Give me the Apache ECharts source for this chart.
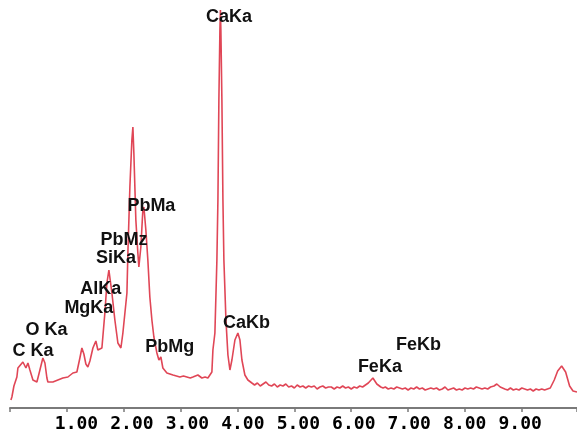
<!DOCTYPE html>
<html>
<head>
<meta charset="utf-8">
<script src="https://cdn.jsdelivr.net/npm/echarts@6/dist/echarts.min.js"></script>
<style>
html,body{margin:0;padding:0;background:#fff;}
#chart{width:577px;height:437px;}
</style>
</head>
<body>
<div id="chart"></div>
<script>
// Energy (keV) and intensity (counts, arbitrary)
var energy = [0.016,0.033,0.069,0.121,0.139,0.174,0.227,0.280,0.315,0.350,0.403,0.473,0.526,0.578,0.614,0.649,0.666,0.754,0.842,0.930,1.018,1.106,1.176,1.229,1.264,1.299,1.334,1.369,1.405,1.458,1.510,1.545,1.580,1.616,1.668,1.704,1.739,1.792,1.844,1.897,1.950,1.985,2.056,2.073,2.108,2.143,2.161,2.178,2.213,2.248,2.266,2.301,2.336,2.354,2.389,2.424,2.459,2.495,2.530,2.583,2.618,2.653,2.688,2.759,2.866,2.987,3.050,3.110,3.170,3.216,3.304,3.374,3.430,3.480,3.550,3.568,3.603,3.638,3.656,3.673,3.691,3.700,3.708,3.726,3.744,3.761,3.797,3.832,3.867,3.902,3.955,4.007,4.043,4.078,4.130,4.183,4.253,
  4.300,4.350,4.400,4.450,4.500,4.550,4.600,4.650,4.700,4.750,4.800,4.850,4.900,4.950,5.000,5.050,5.100,5.150,5.200,5.250,5.300,5.350,5.400,5.450,5.500,5.550,5.600,5.650,5.700,5.750,5.800,5.850,5.900,5.950,6.000,6.050,6.100,6.150,6.200,6.250,6.300,
  6.381,6.450,6.520,
  6.560,6.600,6.650,6.700,6.750,6.800,6.850,6.900,6.950,7.000,7.050,7.100,7.150,7.200,7.250,7.300,7.350,7.400,7.450,7.500,7.550,7.600,7.650,7.700,7.750,7.800,7.850,7.900,7.950,8.000,8.050,8.100,8.150,8.200,8.250,8.300,8.350,8.400,8.450,
  8.510,8.560,8.620,
  8.650,8.700,8.750,8.800,8.850,8.900,8.950,9.000,9.050,9.100,9.150,9.200,9.250,9.300,9.350,9.400,9.450,9.500,
  9.570,9.630,9.700,9.770,9.840,9.900,9.970];
var counts = [8,11,22,31,40,38,46,40,45,38,28,26,38,50,45,30,26,26,28,30,31,35,36,50,60,54,44,41,47,60,67,58,56,60,95,125,138,115,88,65,60,75,115,155,221,268,281,255,188,155,141,161,198,201,178,148,111,88,71,55,48,51,40,35,33,31,32,31,30,31,33,30,31,30,36,58,75,148,208,308,378,398,378,308,208,148,88,53,38,48,68,75,68,48,33,28,25,
  23,25,22,24,26,23,22,24,21,23,22,24,21,22,20,23,21,22,20,22,21,22,19,21,22,20,21,21,19,21,20,22,20,21,19,21,20,22,21,23,25,
  30,24,21,
  20,21,19,20,19,21,20,19,20,18,20,19,21,19,20,18,19,20,19,20,18,19,21,18,19,20,18,19,18,20,19,20,19,21,20,19,20,19,21,
  22,24,21,
  20,19,18,20,18,19,18,20,19,18,19,17,19,18,19,18,19,20,
  28,37,42,36,22,17,16];

// Peak annotations
var peakNames = ['CaKa','PbMa','PbMz','SiKa','AlKa','MgKa','O Ka','C Ka','PbMg','CaKb','FeKa','FeKb'];
var peakLabelEnergy = [3.849,2.486,2.003,1.862,1.598,1.387,0.640,0.403,2.811,4.157,6.504,7.181];
var peakLabelHeight = [391,202,168,150,119,100,78,57,61,85,41,63];

// Axis tick labels
var tickLabels = ['1.00','2.00','3.00','4.00','5.00','6.00','7.00','8.00','9.00'];

var lineData = energy.map(function(e,i){return [e,counts[i]];});
var labelData = peakNames.map(function(n,i){return [peakLabelEnergy[i],peakLabelHeight[i],n];});

var chart = echarts.init(document.getElementById('chart'), null, {renderer:'canvas'});
chart.setOption({
  animation:false,
  backgroundColor:'#ffffff',
  grid:[
    {left:10, right:0, top:0, bottom:29},
    {left:21, width:567, top:0, bottom:29}
  ],
  xAxis:[
    {gridIndex:0, type:'value', min:0, max:9.97, interval:1,
     axisLine:{show:true, lineStyle:{color:'#7a7a7a', width:2}},
     axisTick:{show:true, length:4, lineStyle:{color:'#7a7a7a', width:1.5}},
     axisLabel:{show:false}, splitLine:{show:false}},
    {gridIndex:1, type:'value', min:0, max:9.97, interval:1,
     axisLine:{show:false}, axisTick:{show:false}, splitLine:{show:false},
     axisLabel:{show:true, margin:7, color:'#000', fontFamily:'DejaVu Sans Mono', fontWeight:'bold', fontSize:18,
       formatter:function(v){
         var r=Math.round(v);
         if(Math.abs(v-r)>1e-6||r<1||r>9) return '';
         return tickLabels[r-1];
       }}}
  ],
  yAxis:[
    {gridIndex:0, type:'value', min:0, max:408, show:false},
    {gridIndex:1, type:'value', min:0, max:408, show:false}
  ],
  series:[
    {type:'line', xAxisIndex:0, yAxisIndex:0, data:lineData, showSymbol:false, smooth:false,
     lineStyle:{color:'#e04656', width:1.6}, z:2},
    {type:'scatter', xAxisIndex:0, yAxisIndex:0, data:labelData, symbolSize:0, z:3,
     itemStyle:{opacity:1},
     label:{show:true, position:'inside', opacity:1, formatter:function(p){return p.data[2];},
       color:'#111111', fontFamily:'Liberation Sans', fontWeight:'bold', fontSize:18}}
  ]
});
</script>
</body>
</html>
